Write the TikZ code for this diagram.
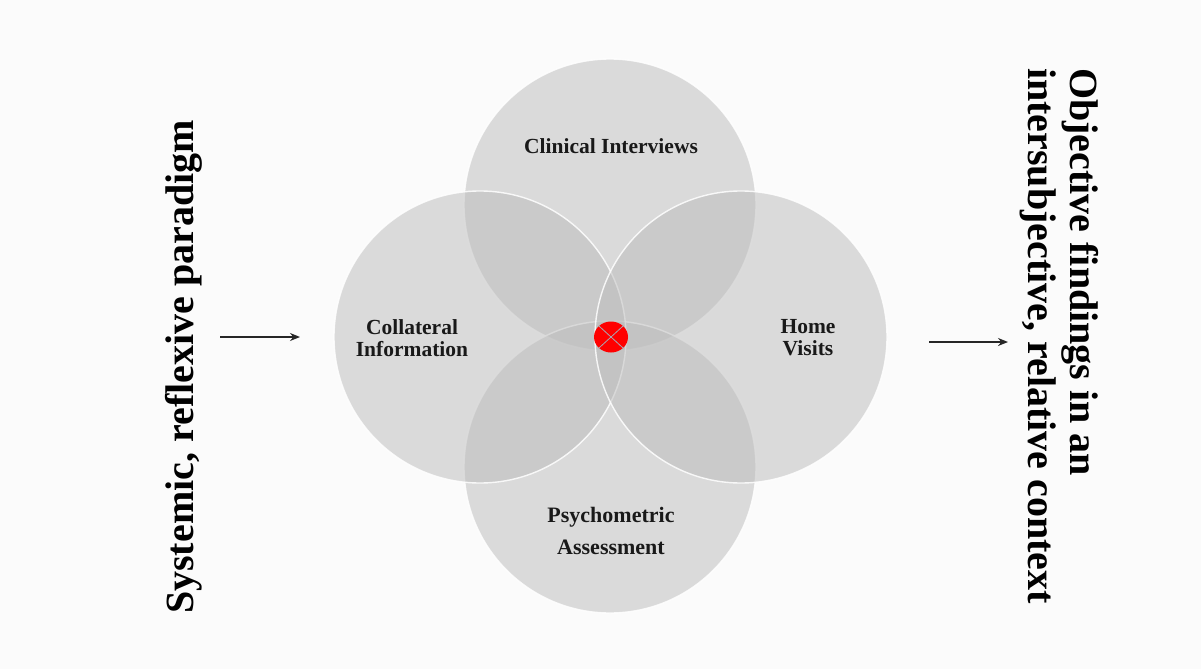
\documentclass[tikz,border=0pt]{standalone}
\usepackage{fontspec}
\setmainfont{Liberation Serif}
\usetikzlibrary{arrows.meta,shapes.geometric}
\definecolor{bgcol}{HTML}{FBFBFB}
\definecolor{discgray}{HTML}{BDBDBD}
\definecolor{crossgray}{HTML}{A8A8B4}
\tikzset{
  disc/.style={circle, minimum size=292pt, inner sep=0pt, fill=discgray, fill opacity=0.52,
               draw=white, draw opacity=0.85, line width=1.4pt},
  lbl/.style={font=\bfseries\fontsize{21.5}{22.5}\selectfont, align=center, inner sep=0pt, anchor=north, text=black!90},
  side/.style={font=\bfseries\fontsize{40}{42}\selectfont, inner sep=0pt, text=black},
  flow/.style={line width=2.3pt, draw=black!85, -{Stealth[length=10pt,width=8pt]}},
}
\begin{document}
\begin{tikzpicture}[x=1pt,y=-1pt]
\fill[bgcol] (0,0) rectangle (1201,669);
\useasboundingbox (0,0) rectangle (1201,669);
% four overlapping discs
\node[disc] (top)    at (610,205) {};
\node[disc] (bottom) at (610,467) {};
\node[disc] (left)   at (480,337) {};
\node[disc] (right)  at (741,337) {};
% centre mark
\node[ellipse, fill=red, minimum width=34pt, minimum height=31pt, inner sep=0pt] (core) at (611,337) {};
\draw[crossgray, line width=0.8pt] (core.north west) -- (core.south east)
      (core.north east) -- (core.south west);
% labels
\node[lbl] (lt) at (611,138) {Clinical Interviews};
\node[lbl] (ll) at (412,319) {Collateral\\Information};
\node[lbl] (lr) at (808,319) {Home\\Visits};
\node[lbl, font=\bfseries\fontsize{22}{32}\selectfont] (lb) at (611,507) {Psychometric\\Assessment};
% side texts
\node[side, rotate=90, anchor=base] (src) at (193,367) {Systemic, reflexive paradigm};
\node[side, rotate=-90, anchor=north west, align=left] (dst) at (1099,68)
  {Objective findings in an\\intersubjective, relative context};
% arrows
\coordinate (a1s) at (220,337);
\coordinate (a1e) at (300,337);
\coordinate (a2s) at (929,342);
\coordinate (a2e) at (1008,342);
\draw[flow] (a1s) -- (a1e);
\draw[flow] (a2s) -- (a2e);
\end{tikzpicture}
\end{document}
